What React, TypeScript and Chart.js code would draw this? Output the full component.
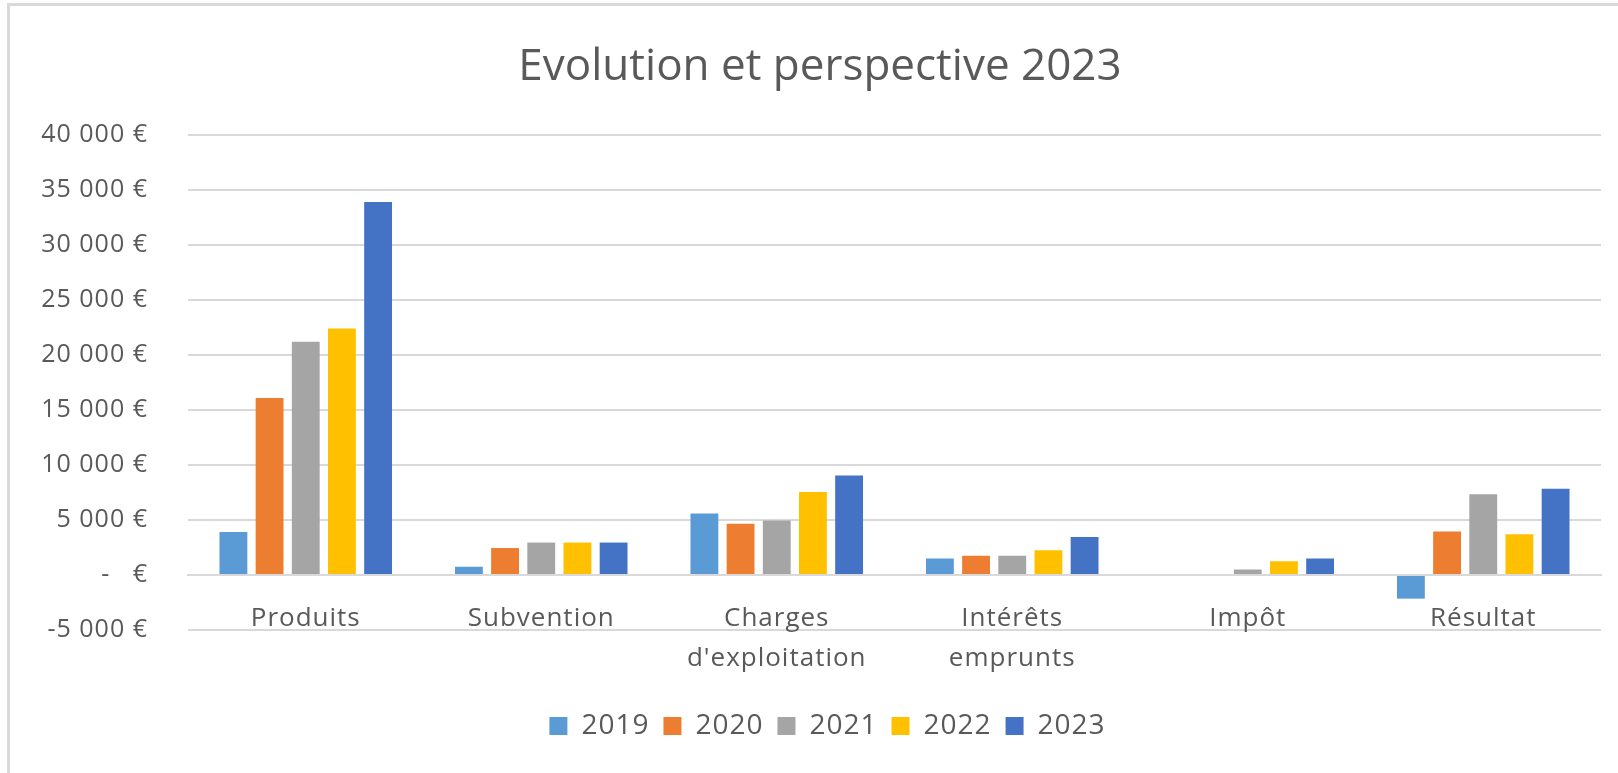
import React, { useEffect, useRef } from "react";
import { Chart, registerables } from "chart.js";

Chart.register(...registerables);

const TITLE = "Evolution et perspective 2023";
const categories: (string | string[])[] = [
  "Produits",
  "Subvention",
  ["Charges", "d'exploitation"],
  ["Intérêts", "emprunts"],
  "Impôt",
  "Résultat",
];
const years = ["2019", "2020", "2021", "2022", "2023"];
const values2019 = [3900, 750, 5600, 1500, 0, -2150];
const values2020 = [16100, 2450, 4650, 1750, 0, 3950];
const values2021 = [21200, 2950, 4950, 1750, 500, 7350];
const values2022 = [22400, 2950, 7550, 2250, 1250, 3700];
const values2023 = [33900, 2950, 9050, 3450, 1500, 7850];
const seriesValues = [values2019, values2020, values2021, values2022, values2023];
const seriesColors = ["#5B9BD5", "#ED7D31", "#A5A5A5", "#FFC000", "#4472C4"];
const yMin = -5000;
const yMax = 40000;
const yStep = 5000;

const TEXT = "#595959";
const GRID = "#d9d9d9";
const FONT = '"Open Sans", "Noto Sans", sans-serif';

function formatEuro(v: number): string {
  if (v === 0) return "-   €";
  const abs = Math.abs(v);
  const s = String(abs).replace(/\B(?=(\d{3})+(?!\d))/g, " ");
  return (v < 0 ? "-" : "") + s + " €";
}

const spacingPlugin = {
  id: "spacing",
  beforeLayout(chart: any) {
    chart.ctx.letterSpacing = "1px";
  },
  beforeDraw(chart: any) {
    chart.ctx.letterSpacing = "1px";
  },
};

const titlePlugin = {
  id: "customTitle",
  afterDraw(chart: any) {
    const ctx = chart.ctx;
    ctx.save();
    ctx.letterSpacing = "0px";
    ctx.font = `44px ${FONT}`;
    ctx.fillStyle = TEXT;
    ctx.textAlign = "center";
    ctx.textBaseline = "alphabetic";
    ctx.fillText(TITLE, 810, 74);
    ctx.restore();
  },
};

const CANVAS_W = 1635;
const CANVAS_H = 767;

export default function App() {
  const canvasRef = useRef<HTMLCanvasElement | null>(null);

  useEffect(() => {
    if (!canvasRef.current) return;
    const chart = new Chart(canvasRef.current, {
      type: "bar",
      data: {
        labels: categories as any,
        datasets: years.map((y, i) => ({
          label: y,
          data: seriesValues[i],
          backgroundColor: seriesColors[i],
          borderWidth: 0,
          categoryPercentage: 0.768,
          barPercentage: 0.77,
          xAxisID: "x",
          yAxisID: "y",
        })),
      },
      plugins: [spacingPlugin, titlePlugin],
      options: {
        animation: false,
        responsive: false,
        devicePixelRatio: 1,
        layout: { padding: { top: 129, left: 0, right: 0, bottom: 23 } },
        plugins: {
          title: { display: false },
          tooltip: { enabled: false },
          legend: {
            display: true,
            position: "bottom",
            labels: {
              boxWidth: 18,
              boxHeight: 18,
              padding: 14,
              color: TEXT,
              font: { family: FONT, size: 28 },
            },
          },
        },
        scales: {
          x: {
            type: "category",
            position: { y: 0 } as any,
            grid: { display: false, drawTicks: false },
            border: { display: true, color: GRID, width: 2 },
            ticks: {
              color: TEXT,
              font: { family: FONT, size: 26, lineHeight: 40 / 26 },
              padding: 24,
              maxRotation: 0,
              minRotation: 0,
              autoSkip: false,
            },
          },
          x2: {
            type: "category",
            position: "bottom",
            display: true,
            grid: { display: false, drawTicks: false },
            border: { display: false },
            ticks: { display: false },
            afterFit(scale: any) {
              scale.height = 68;
            },
          },
          y: {
            type: "linear",
            position: "left",
            min: yMin,
            max: yMax,
            grid: { color: GRID, lineWidth: 2, drawTicks: false },
            border: { display: false },
            ticks: {
              stepSize: yStep,
              color: TEXT,
              font: { family: FONT, size: 25 },
              padding: 40,
              callback: (v: any) => formatEuro(Number(v)),
            },
            afterFit(scale: any) {
              scale.width = 178;
            },
          },
          y2: {
            type: "linear",
            position: "right",
            display: true,
            grid: { display: false, drawTicks: false },
            border: { display: false },
            ticks: { display: false },
            afterFit(scale: any) {
              scale.width = 44;
            },
          },
        },
      } as any,
    });
    return () => chart.destroy();
  }, []);

  return (
    <div
      style={{
        position: "fixed",
        left: 0,
        top: 0,
        width: 1618,
        height: 773,
        overflow: "hidden",
        background: "#ffffff",
      }}
    >
      <div
        style={{
          position: "absolute",
          left: 7,
          top: 3,
          borderLeft: `3px solid ${GRID}`,
          borderTop: `3px solid ${GRID}`,
          width: CANVAS_W,
          height: CANVAS_H,
        }}
      >
        <canvas
          ref={canvasRef}
          width={CANVAS_W}
          height={CANVAS_H}
          style={{ display: "block", width: CANVAS_W, height: CANVAS_H }}
        />
      </div>
    </div>
  );
}
